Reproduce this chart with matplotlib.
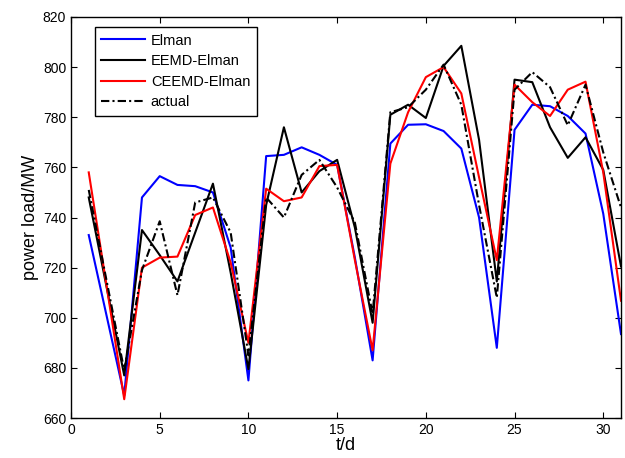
import numpy as np
import matplotlib
matplotlib.use('Agg')
from matplotlib import pyplot as plt

# 日期
days = np.arange(1, 32)

# 各模型预测负荷 (MW)
elman = [733, 701, 669, 748, 756.5, 753, 752.5, 750, 728, 675,
         764.5, 765, 768, 765, 761, 724, 683, 769.5, 777, 777.2,
         774.5, 767.5, 740, 688, 775, 785, 784.4, 780.5, 773.5, 741.5,
         693.5]
eemd_elman = [748, 712.5, 677, 735, 725, 714.5, 734, 753.5, 718, 679.5,
              745, 776, 750, 758.5, 763, 736, 698, 781, 785, 779.7,
              800.5, 808.5, 771, 714.5, 795, 794, 776, 763.8, 772, 759,
              720.5]
ceemd_elman = [758, 713, 667.5, 720, 724, 724.4, 741, 744, 722, 690,
               751.5, 746.5, 748, 760.5, 761, 723, 687, 761.5, 782, 796,
               800, 789.5, 756, 723, 793, 786, 780.5, 791, 794.2, 758,
               706.8]
actual = [751, 715, 679, 719, 738.5, 709, 746, 748, 734, 685,
          748, 740, 757, 763, 752, 738, 701.5, 782, 784, 791,
          801, 785, 745, 708, 791, 798, 792, 776.8, 793, 766,
          744]

plt.rcParams['font.family'] = ['Liberation Sans', 'DejaVu Sans']
fig = plt.figure(figsize=(6.25, 4.58), dpi=100)
ax = fig.add_axes([0.1136, 0.0873, 0.88, 0.8756])

ax.plot(days, elman, color='#0000ff', lw=1.5, label='Elman')
ax.plot(days, eemd_elman, color='black', lw=1.5, label='EEMD-Elman')
ax.plot(days, ceemd_elman, color='#ff0000', lw=1.5, label='CEEMD-Elman')
ax.plot(days, actual, color='black', lw=1.5, ls=(0, (4, 1.5, 1, 1.5)), label='actual')

ax.set_xlim(0, 31)
ax.set_ylim(660, 820)
ax.set_xticks(range(0, 31, 5))
ax.set_yticks(range(660, 821, 20))
ax.tick_params(direction='in', top=True, right=True, labelsize=10, length=4)
for sp in ax.spines.values():
    sp.set_linewidth(1.0)

ax.set_xlabel('t/d', fontsize=13, labelpad=0)
ax.set_ylabel('power load/MW', fontsize=13, labelpad=3)

leg = ax.legend(loc='upper left', bbox_to_anchor=(0.043, 0.975), fontsize=10.5,
                fancybox=False, framealpha=1, edgecolor='black',
                handlelength=3.0, handletextpad=0.4, labelspacing=0.45,
                borderpad=0.45, borderaxespad=0)
leg.get_frame().set_linewidth(1.0)

fig.savefig('out.png', dpi=100)
